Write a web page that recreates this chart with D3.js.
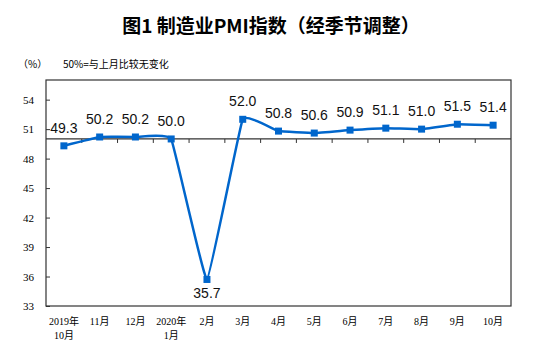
<!DOCTYPE html>
<html>
<head>
<meta charset="utf-8">
<script src="https://cdn.jsdelivr.net/npm/d3@7"></script>
<style>
  body { margin: 0; background: #fff; }
  svg { display: block; }
</style>
</head>
<body>
<svg id="chart" width="554" height="349"></svg>
<script>
// months, first line / second line of each label
var monthLine1 = ["2019年", "11月", "12月", "2020年", "2月", "3月", "4月", "5月", "6月", "7月", "8月", "9月", "10月"];
var monthLine2 = ["10月", "", "", "1月", "", "", "", "", "", "", "", "", ""];
// PMI values
var pmiValues = [49.3, 50.2, 50.2, 50.0, 35.7, 52.0, 50.8, 50.6, 50.9, 51.1, 51.0, 51.5, 51.4];
var yTicks = [33, 36, 39, 42, 45, 48, 51, 54];

var svg = d3.select('#chart');

// plot box (don't call it "top", that's window.top)
var plotLeft = 46, plotRight = 511, plotTop = 80, plotBottom = 306;
var blue = '#0066cc';
var axisColor = '#333';

var x = d3.scaleBand().domain(d3.range(pmiValues.length)).range([plotLeft, plotRight]).padding(0);
var y = d3.scaleLinear().domain([33, 56]).range([plotBottom, plotTop]);

// title
svg.append('text')
    .attr('x', 271)
    .attr('y', 33)
    .attr('text-anchor', 'middle')
    .style('font-family', '"Noto Sans CJK SC", sans-serif')
    .style('font-weight', 'bold')
    .style('font-size', '19px')
    .text('图1 制造业PMI指数（经季节调整）');

// unit + note
svg.append('text')
    .attr('x', 18).attr('y', 68)
    .style('font-family', '"Noto Sans CJK SC", sans-serif')
    .style('font-size', '10px')
    .text('（%）');
svg.append('text')
    .attr('x', 63).attr('y', 68)
    .style('font-family', '"Noto Sans CJK SC", sans-serif')
    .style('font-size', '10px')
    .text('50%=与上月比较无变化');

// plot frame
svg.append('rect')
    .attr('x', plotLeft).attr('y', plotTop)
    .attr('width', plotRight - plotLeft).attr('height', plotBottom - plotTop)
    .attr('fill', 'none')
    .attr('stroke', axisColor)
    .attr('stroke-width', 1.2);

// y axis, ticks point inward
var yAxis = d3.axisRight(y).tickValues(yTicks).tickSize(4).tickFormat('');
svg.append('g')
    .attr('transform', 'translate(' + plotLeft + ',0)')
    .call(yAxis)
    .call(g => g.select('.domain').remove())
    .call(g => g.selectAll('line').attr('stroke', axisColor));

svg.append('g')
    .selectAll('text')
    .data(yTicks)
    .join('text')
    .attr('x', 34)
    .attr('y', d => y(d) + 4)
    .attr('text-anchor', 'end')
    .style('font-family', '"Liberation Serif", serif')
    .style('font-size', '11px')
    .text(d => d);

// 50 line with category ticks
var y50 = y(50);
svg.append('line')
    .attr('x1', plotLeft).attr('x2', plotRight)
    .attr('y1', y50).attr('y2', y50)
    .attr('stroke', axisColor)
    .attr('stroke-width', 1.2);

svg.append('g')
    .selectAll('line')
    .data(d3.range(1, pmiValues.length))
    .join('line')
    .attr('x1', i => x(i)).attr('x2', i => x(i))
    .attr('y1', y50).attr('y2', y50 + 4)
    .attr('stroke', axisColor);

// x labels
var cx = i => x(i) + x.bandwidth() / 2;
var labels = svg.append('g')
    .style('font-family', '"Liberation Serif", "Noto Sans CJK SC", serif')
    .style('font-size', '10px')
    .attr('text-anchor', 'middle');
labels.selectAll('text.l1')
    .data(monthLine1)
    .join('text')
    .attr('class', 'l1')
    .attr('x', (d, i) => cx(i))
    .attr('y', 325)
    .text(d => d);
labels.selectAll('text.l2')
    .data(monthLine2)
    .join('text')
    .attr('class', 'l2')
    .attr('x', (d, i) => cx(i))
    .attr('y', 339)
    .text(d => d);

// the line - only slightly smoothed, the dip stays a sharp V
var line = d3.line()
    .x((d, i) => cx(i))
    .y(d => y(d))
    .curve(d3.curveCardinal.tension(0.75));

svg.append('path')
    .datum(pmiValues)
    .attr('d', line)
    .attr('fill', 'none')
    .attr('stroke', blue)
    .attr('stroke-width', 2.5);

svg.append('g')
    .selectAll('rect')
    .data(pmiValues)
    .join('rect')
    .attr('x', (d, i) => cx(i) - 3.5)
    .attr('y', d => y(d) - 3.5)
    .attr('width', 7)
    .attr('height', 7)
    .attr('fill', blue);

// value labels
svg.append('g')
    .selectAll('text')
    .data(pmiValues)
    .join('text')
    .attr('x', (d, i) => cx(i))
    .attr('y', d => d < 45 ? y(d) + 19 : y(d) - 13)
    .attr('text-anchor', 'middle')
    .style('font-family', '"Liberation Sans", Arial, sans-serif')
    .style('font-size', '14px')
    .attr('fill', '#111')
    .text(d => d.toFixed(1));
</script>
</body>
</html>
